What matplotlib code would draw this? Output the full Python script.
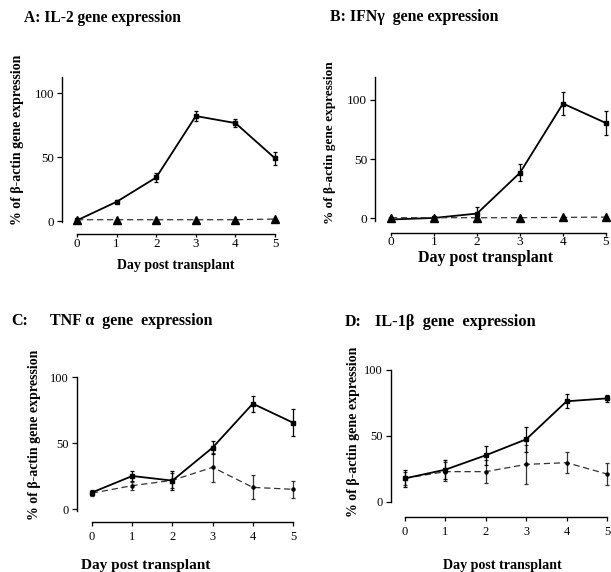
import matplotlib
matplotlib.use("Agg")
import matplotlib.pyplot as plt

plt.rcParams['font.family'] = ['Liberation Serif', 'DejaVu Serif']

W, H = 611, 572
days = [0, 1, 2, 3, 4, 5]
yticks = [0, 50, 100]

# Panel A: IL-2
a_solid = [0.5, 15, 34, 82, 76.5, 49]
a_solid_err = [0.5, 1.2, 3.5, 4, 3, 5]
a_dash = [1, 1, 1, 1, 1, 1.5]

# Panel B: IFN-gamma
b_solid = [-1, 0.3, 4, 38.5, 97, 80.5]
b_solid_err = [0.5, 0.8, 5.5, 7, 10, 10]
b_dash = [0.5, 0.5, 0.5, 0.5, 0.8, 1]

# Panel C: TNF-alpha
c_solid = [12.5, 25, 21.5, 46.5, 79.8, 65.4]
c_solid_err = [2, 4, 7, 5, 6, 10]
c_dash = [12, 17.7, 21.7, 31.6, 16.4, 14.9]
c_dash_err = [2, 3, 5.5, 11, 9, 6.3]

# Panel D: IL-1beta
d_solid = [17.9, 24.5, 35.4, 47.5, 76.3, 78.5]
d_solid_err = [6.5, 7, 7, 9.5, 5.3, 2.4]
d_dash = [18, 23, 23, 28.5, 29.8, 21.2]
d_dash_err = [5, 7, 8.5, 14.5, 8, 8]

fig = plt.figure(figsize=(W / 100, H / 100), dpi=100)


def make_panel(yspine, x0, x5, py0, py100, pxspine, pytop, pyspine_bot,
               xlen, xpad, lsize):
    left, right = yspine, x5 + 4
    top, bottom = pytop, pxspine
    ax = fig.add_axes([left / W, (H - bottom) / H, (right - left) / W, (bottom - top) / H])
    sx = (x5 - x0) / 5.0
    xmin = -(x0 - left) / sx
    ax.set_xlim(xmin, xmin + (right - left) / sx)
    sy = (py0 - py100) / 100.0
    ymin = -(bottom - py0) / sy
    ymax = ymin + (bottom - top) / sy
    ax.set_ylim(ymin, ymax)
    for s in ('top', 'right'):
        ax.spines[s].set_visible(False)
    ax.spines['left'].set_bounds((py0 - pyspine_bot) / sy, ymax)
    ax.spines['bottom'].set_bounds(0, 5)
    for s in ('left', 'bottom'):
        ax.spines[s].set_linewidth(1.0)
    ax.set_xticks(days)
    ax.set_yticks(yticks)
    ax.tick_params(axis='y', direction='out', length=3.5, width=0.9,
                   labelsize=lsize, pad=2.2)
    ax.tick_params(axis='x', direction='out', length=xlen, width=0.9,
                   labelsize=lsize, pad=xpad)
    ax.patch.set_visible(False)
    return ax


def solid(ax, y, err, ms=3):
    ax.errorbar(days, y, yerr=err, color='black', lw=1.3, marker='s', ms=ms,
                elinewidth=0.9, capsize=1.6, capthick=0.9, clip_on=False)


def dashed(ax, y, err=None, marker='^', ms=6, color='#333333'):
    ax.errorbar(days, y, yerr=err, color=color, lw=0.9, ls=(0, (5, 3)),
                marker=marker, ms=ms, mfc='black', mec='black',
                elinewidth=0.9, capsize=1.6, capthick=0.9, clip_on=False)


axA = make_panel(62, 77, 275, 221, 93, 234, 77, 222, 2.2, 0.4, 9.4)
solid(axA, a_solid, a_solid_err)
dashed(axA, a_dash)

axB = make_panel(375, 391, 606, 218.3, 100, 233, 77, 221, 2.2, 0.1, 9.6)
solid(axB, b_solid, b_solid_err)
dashed(axB, b_dash)

axC = make_panel(77, 92, 293, 509, 377, 522, 377, 511, 3, 3.6, 8.9)
dashed(axC, c_dash, c_dash_err, marker='o', ms=2.2)
solid(axC, c_solid, c_solid_err, ms=3.5)

axD = make_panel(391, 405, 607, 502, 370, 517, 370, 502, 3, 3.8, 8.9)
dashed(axD, d_dash, d_dash_err, marker='o', ms=2.2)
solid(axD, d_solid, d_solid_err, ms=3.5)


def ftext(x, y, s, size, **kw):
    fig.text(x / W, 1 - y / H, s, fontsize=size, fontweight='bold', **kw)


# titles
ftext(24, 18, "A: IL-2 gene expression", 11.2, ha='left', va='center')
ftext(330, 17, "B: IFN\u03b3  gene expression", 11.4, ha='left', va='center')
ftext(11, 321, "C:", 11.5, ha='left', va='center')
ftext(50, 321, "TNF \u03b1  gene  expression", 11.5, ha='left', va='center')
ftext(345, 322, "D:", 11.5, ha='left', va='center')
ftext(375, 322, "IL-1\u03b2  gene  expression", 11.8, ha='left', va='center')

# y labels
ylab = "% of \u03b2-actin gene expression"
ftext(18, 140, ylab, 10, rotation=90, ha='center', va='center')
ftext(330, 143, ylab, 9.5, rotation=90, ha='center', va='center')
ftext(35, 435, ylab, 10, rotation=90, ha='center', va='center')
ftext(353, 432, ylab, 10, rotation=90, ha='center', va='center')

# x labels
xlab = "Day post transplant"
ftext(176, 265, xlab, 10, ha='center', va='center')
ftext(485, 258, xlab, 11.5, ha='center', va='center')
ftext(146, 565, xlab, 11, ha='center', va='center')
ftext(502, 566, xlab, 10.1, ha='center', va='center')

fig.savefig("out.png", dpi=100)
